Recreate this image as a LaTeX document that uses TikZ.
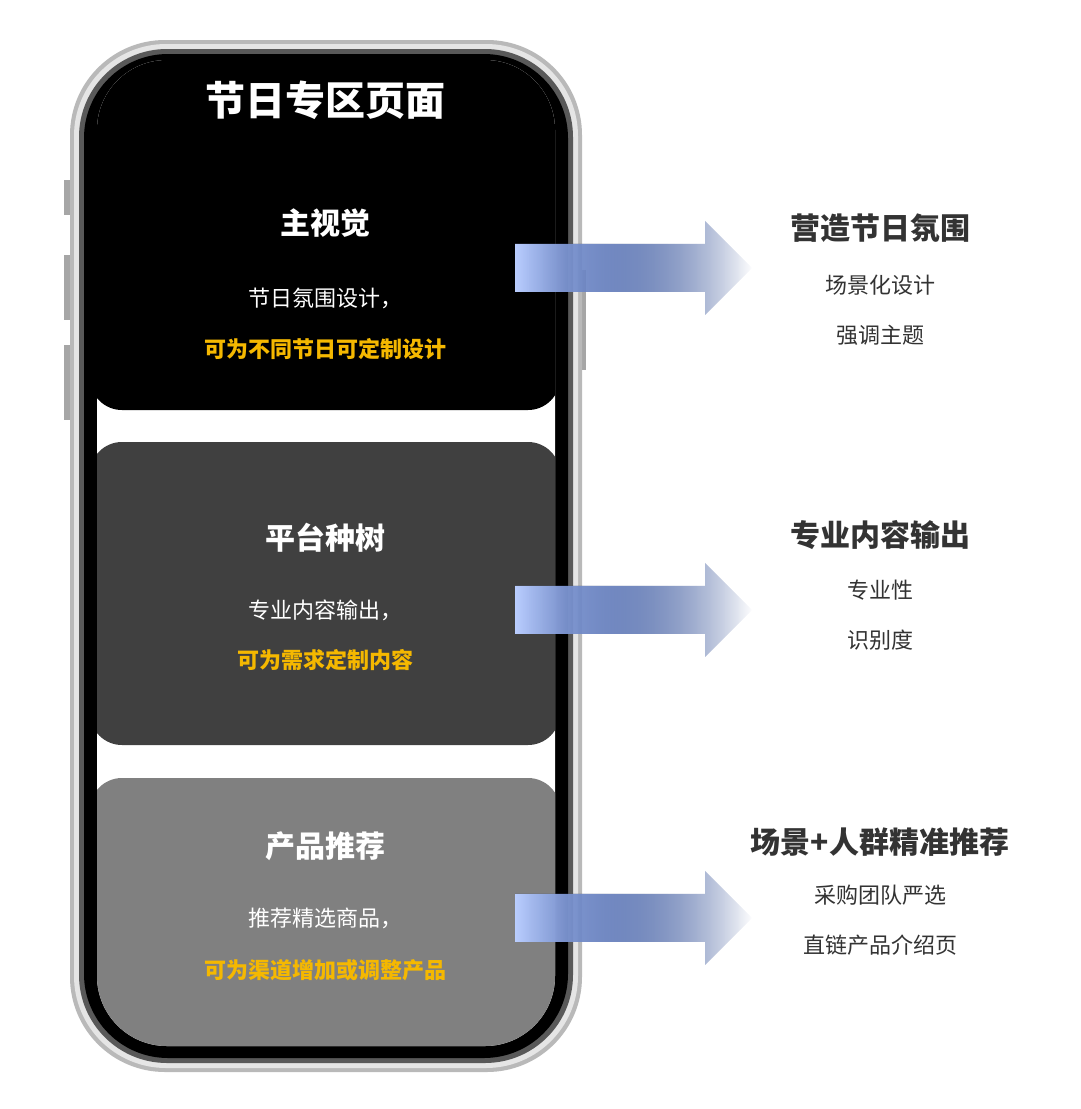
\documentclass[tikz,border=0pt]{standalone}
\usepackage{fontspec}
\setmainfont{Noto Sans CJK SC}
\usetikzlibrary{fadings}
\definecolor{ablue}{HTML}{1A5CFF}
\definecolor{gold}{HTML}{F5B800}
\definecolor{txt}{HTML}{333333}
\tikzset{
  hd/.style={font=\fontsize{30}{34}\selectfont\bfseries,text=white},
  bd/.style={font=\fontsize{22}{26}\selectfont,text=white},
  gd/.style={font=\fontsize{22}{26}\selectfont\bfseries,text=gold},
  rh/.style={font=\fontsize{30}{34}\selectfont\bfseries,text=txt},
  rs/.style={font=\fontsize{22}{26}\selectfont,text=txt},
  blk/.style={rounded corners=32pt},
}
\begin{document}
\begin{tikzpicture}[x=1pt,y=-1pt]
\useasboundingbox (0,0) rectangle (1080,1109);
\fill[white] (0,0) rectangle (1080,1109);
% buttons
\fill[gray!70] (64,180) rectangle (72,215);
\fill[gray!70] (64,255) rectangle (72,320);
\fill[gray!70] (64,345) rectangle (72,420);
\fill[gray!70] (578,270) rectangle (586,370);
% phone frame
\fill[gray!55,rounded corners=95pt] (70,40) rectangle (582,1072);
\fill[gray!20,rounded corners=92pt] (74,44) rectangle (578,1068);
\fill[gray!70!black,rounded corners=88pt] (79,49) rectangle (573,1063);
\fill[black,rounded corners=84pt] (84,54) rectangle (568,1058);
\begin{scope}
\clip[rounded corners=70pt] (97,60) rectangle (555,1046);
\fill[white] (90,50) rectangle (560,1050);
\fill[black,blk] (90,40) rectangle (560,410);
\fill[black!75,blk] (90,442) rectangle (560,745);
\fill[black!50,blk] (90,778) rectangle (560,1100);
\end{scope}
\node[font=\fontsize{40}{46}\selectfont\bfseries,text=white] (title) at (325,100) {节日专区页面};
\node[hd] (h1) at (325,223) {主视觉};
\node[bd] (b1) at (325,298) {节日氛围设计，};
\node[gd] (g1) at (325,349) {可为不同节日可定制设计};
\node[hd] (h2) at (325,538) {平台种树};
\node[bd] (b2) at (325,610) {专业内容输出，};
\node[gd] (g2) at (325,660) {可为需求定制内容};
\node[hd] (h3) at (325,846) {产品推荐};
\node[bd] (b3) at (325,918) {推荐精选商品，};
\node[gd] (g3) at (325,970) {可为渠道增加或调整产品};
% arrows
\foreach \c in {268,610,918}{
  \fill[left color=ablue!30,right color=ablue,path fading=east]
    (515,\c-24) -- (705,\c-24) -- (705,\c-47) -- (752,\c) -- (705,\c+47) -- (705,\c+24) -- (515,\c+24) -- cycle;
}
\node[rh] (r1) at (880,228) {营造节日氛围};
\node[rs] (r1a) at (880,285) {场景化设计};
\node[rs] (r1b) at (880,335) {强调主题};
\node[rh] (r2) at (880,535) {专业内容输出};
\node[rs] (r2a) at (880,590) {专业性};
\node[rs] (r2b) at (880,640) {识别度};
\node[rh] (r3) at (880,842) {场景+人群精准推荐};
\node[rs] (r3a) at (880,895) {采购团队严选};
\node[rs] (r3b) at (880,945) {直链产品介绍页};
\end{tikzpicture}
\end{document}
